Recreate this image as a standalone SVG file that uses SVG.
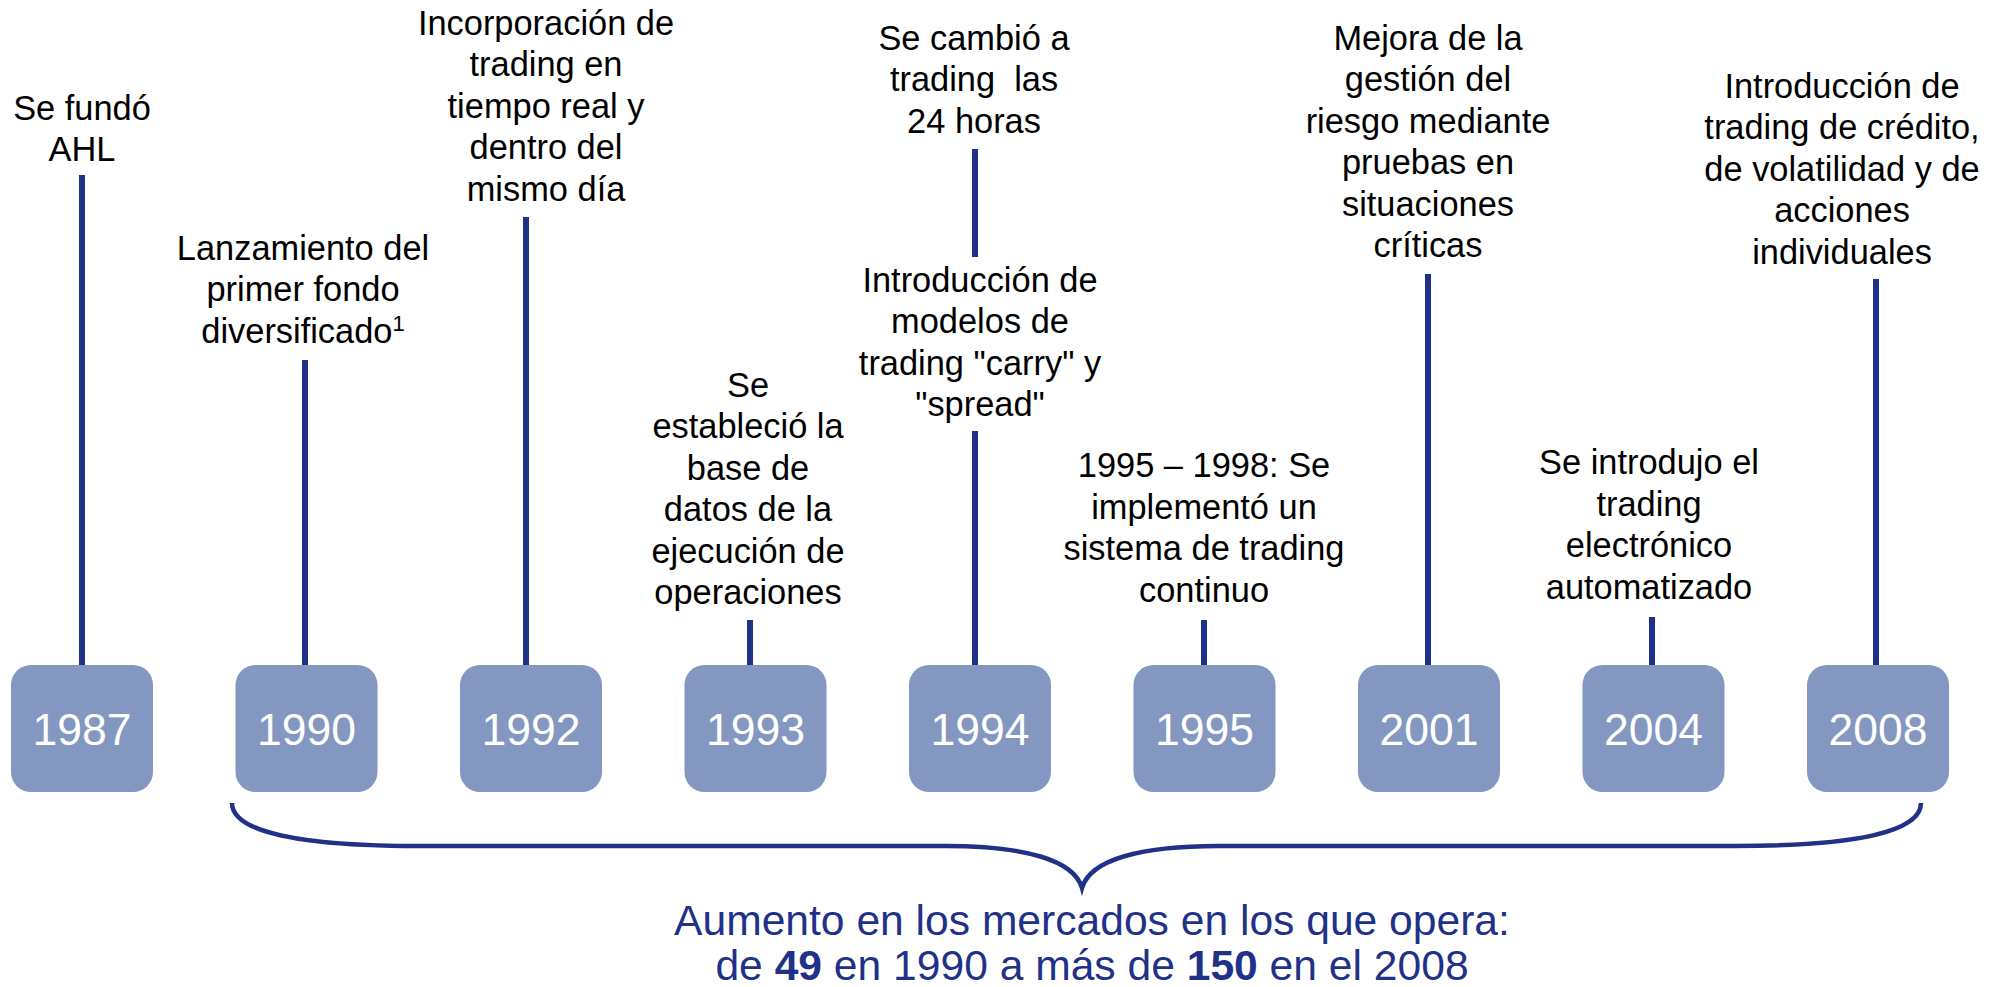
<svg xmlns="http://www.w3.org/2000/svg" width="2004" height="987" viewBox="0 0 2004 987">
<style>
.lbl{font-family:"Liberation Sans",Arial,sans-serif;font-size:34.4px;fill:#000;text-anchor:middle}
.yr{font-family:"Liberation Sans",Arial,sans-serif;font-size:44.5px;fill:#fff;text-anchor:middle}
.box{fill:#8497C0}
.ln{stroke:#1F3288;stroke-width:6;fill:none}
.brace{stroke:#1F3288;stroke-width:4.5;fill:none}
.sum{font-family:"Liberation Sans",Arial,sans-serif;font-size:42.6px;fill:#1F3288;text-anchor:middle}
</style>
<rect width="2004" height="987" fill="#fff"/>
<g id="connectors">
<line class="ln" x1="82" y1="175" x2="82" y2="666"/>
<line class="ln" x1="305" y1="360" x2="305" y2="666"/>
<line class="ln" x1="526" y1="217" x2="526" y2="666"/>
<line class="ln" x1="750" y1="620" x2="750" y2="666"/>
<line class="ln" x1="975" y1="149" x2="975" y2="257"/>
<line class="ln" x1="975" y1="431" x2="975" y2="666"/>
<line class="ln" x1="1204" y1="620" x2="1204" y2="666"/>
<line class="ln" x1="1428" y1="274" x2="1428" y2="666"/>
<line class="ln" x1="1652" y1="617" x2="1652" y2="666"/>
<line class="ln" x1="1876" y1="279" x2="1876" y2="666"/>
<path class="brace" d="M232,803 C232,832 300,846 420,846 L945,846 C1025,846 1074,860 1082,888 C1090,860 1139,846 1219,846 L1735,846 C1855,846 1921,832 1921,803"/>
</g>
<g id="n1987">
<rect class="box" x="11" y="665" width="142" height="127" rx="20"/>
<text class="yr" x="82" y="745">1987</text>
<text class="lbl" x="82" y="120">Se fundó</text>
<text class="lbl" x="82" y="161">AHL</text>
</g>
<g id="n1990">
<rect class="box" x="235.5" y="665" width="142" height="127" rx="20"/>
<text class="yr" x="306.5" y="745">1990</text>
<text class="lbl" x="303" y="260">Lanzamiento del</text>
<text class="lbl" x="303" y="301">primer fondo</text>
<text class="lbl" x="303" y="343">diversificado<tspan font-size="22px" dy="-12">1</tspan></text>
</g>
<g id="n1992">
<rect class="box" x="460" y="665" width="142" height="127" rx="20"/>
<text class="yr" x="531" y="745">1992</text>
<text class="lbl" x="546" y="35">Incorporación de</text>
<text class="lbl" x="546" y="76">trading en</text>
<text class="lbl" x="546" y="118">tiempo real y</text>
<text class="lbl" x="546" y="159">dentro del</text>
<text class="lbl" x="546" y="201">mismo día</text>
</g>
<g id="n1993">
<rect class="box" x="684.5" y="665" width="142" height="127" rx="20"/>
<text class="yr" x="755.5" y="745">1993</text>
<text class="lbl" x="748" y="397">Se</text>
<text class="lbl" x="748" y="438">estableció la</text>
<text class="lbl" x="748" y="480">base de</text>
<text class="lbl" x="748" y="521">datos de la</text>
<text class="lbl" x="748" y="563">ejecución de</text>
<text class="lbl" x="748" y="604">operaciones</text>
</g>
<g id="n1994">
<rect class="box" x="909" y="665" width="142" height="127" rx="20"/>
<text class="yr" x="980" y="745">1994</text>
<text class="lbl" x="974" y="50">Se cambió a</text>
<text class="lbl" x="974" y="91" xml:space="preserve">trading  las</text>
<text class="lbl" x="974" y="133">24 horas</text>
<text class="lbl" x="980" y="292">Introducción de</text>
<text class="lbl" x="980" y="333">modelos de</text>
<text class="lbl" x="980" y="375">trading "carry" y</text>
<text class="lbl" x="980" y="416">"spread"</text>
</g>
<g id="n1995">
<rect class="box" x="1133.5" y="665" width="142" height="127" rx="20"/>
<text class="yr" x="1204.5" y="745">1995</text>
<text class="lbl" x="1204" y="477">1995 – 1998: Se</text>
<text class="lbl" x="1204" y="519">implementó un</text>
<text class="lbl" x="1204" y="560">sistema de trading</text>
<text class="lbl" x="1204" y="602">continuo</text>
</g>
<g id="n2001">
<rect class="box" x="1358" y="665" width="142" height="127" rx="20"/>
<text class="yr" x="1429" y="745">2001</text>
<text class="lbl" x="1428" y="50">Mejora de la</text>
<text class="lbl" x="1428" y="91">gestión del</text>
<text class="lbl" x="1428" y="133">riesgo mediante</text>
<text class="lbl" x="1428" y="174">pruebas en</text>
<text class="lbl" x="1428" y="216">situaciones</text>
<text class="lbl" x="1428" y="257">críticas</text>
</g>
<g id="n2004">
<rect class="box" x="1582.5" y="665" width="142" height="127" rx="20"/>
<text class="yr" x="1653.5" y="745">2004</text>
<text class="lbl" x="1649" y="474">Se introdujo el</text>
<text class="lbl" x="1649" y="516">trading</text>
<text class="lbl" x="1649" y="557">electrónico</text>
<text class="lbl" x="1649" y="599">automatizado</text>
</g>
<g id="n2008">
<rect class="box" x="1807" y="665" width="142" height="127" rx="20"/>
<text class="yr" x="1878" y="745">2008</text>
<text class="lbl" x="1842" y="98">Introducción de</text>
<text class="lbl" x="1842" y="139">trading de crédito,</text>
<text class="lbl" x="1842" y="181">de volatilidad y de</text>
<text class="lbl" x="1842" y="222">acciones</text>
<text class="lbl" x="1842" y="264">individuales</text>
</g>
<g id="summary">
<text class="sum" x="1092" y="935">Aumento en los mercados en los que opera:</text>
<text class="sum" x="1092" y="980">de <tspan font-weight="bold">49</tspan> en 1990 a más de <tspan font-weight="bold">150</tspan> en el 2008</text>
</g>
</svg>
